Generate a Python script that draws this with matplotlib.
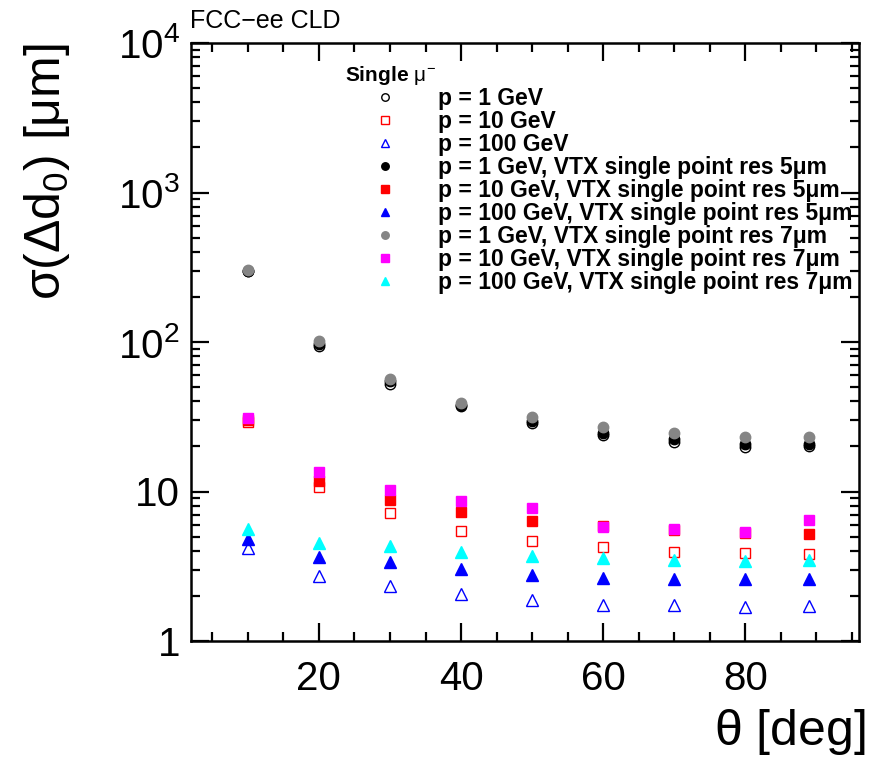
import matplotlib
matplotlib.use("Agg")
import matplotlib.pyplot as plt
from matplotlib.ticker import FixedLocator, FixedFormatter, MultipleLocator, LogLocator, NullFormatter

plt.rcParams['font.family'] = ['Liberation Sans', 'DejaVu Sans']
plt.rcParams['mathtext.fontset'] = 'custom'
plt.rcParams['mathtext.rm'] = 'Liberation Sans'
plt.rcParams['mathtext.it'] = 'Liberation Sans'
plt.rcParams['mathtext.bf'] = 'Liberation Sans:bold'

# polar angle [deg]
theta = [10, 20, 30, 40, 50, 60, 70, 80, 89]

# sigma(d0) [um], default detector
p1 = [297, 94, 52.4, 37.5, 28.7, 23.8, 21.5, 19.9, 20.0]
p10 = [29.2, 10.7, 7.15, 5.47, 4.69, 4.25, 3.96, 3.86, 3.82]
p100 = [4.17, 2.72, 2.34, 2.07, 1.87, 1.75, 1.73, 1.70, 1.71]

# VTX single point resolution 5 um
p1_5 = [300, 97, 54.5, 38.0, 29.5, 24.7, 22.4, 20.8, 20.8]
p10_5 = [30.0, 11.7, 8.77, 7.26, 6.38, 5.88, 5.5, 5.25, 5.22]
p100_5 = [4.81, 3.63, 3.38, 3.02, 2.75, 2.65, 2.59, 2.60, 2.61]

# VTX single point resolution 7 um
p1_7 = [302, 102, 56.6, 38.9, 31.4, 26.9, 24.7, 23.2, 23.2]
p10_7 = [31.0, 13.4, 10.2, 8.7, 7.76, 5.76, 5.58, 5.36, 6.42]
p100_7 = [5.64, 4.52, 4.32, 3.94, 3.70, 3.59, 3.47, 3.41, 3.47]

fig = plt.figure(figsize=(8.75, 7.57), dpi=100)
ax = fig.add_axes([191/875, 1 - 641/757, (859 - 191)/875, (641 - 43)/757])

ms = 7.5
ax.plot(theta, p1, 'o', mfc='none', mec='black', mew=1.0, ms=ms, label='p = 1 GeV')
ax.plot(theta, p10, 's', mfc='none', mec='red', mew=1.0, ms=ms, label='p = 10 GeV')
ax.plot(theta, p100, '^', mfc='none', mec='blue', mew=1.0, ms=ms + 0.5, label='p = 100 GeV')
ax.plot(theta, p1_5, 'o', color='black', ms=ms, label='p = 1 GeV, VTX single point res 5μm')
ax.plot(theta, p10_5, 's', color='red', ms=ms, label='p = 10 GeV, VTX single point res 5μm')
ax.plot(theta, p100_5, '^', color='blue', ms=ms + 0.5, label='p = 100 GeV, VTX single point res 5μm')
ax.plot(theta, p1_7, 'o', color='#858585', ms=ms, label='p = 1 GeV, VTX single point res 7μm')
ax.plot(theta, p10_7, 's', color='magenta', ms=ms, label='p = 10 GeV, VTX single point res 7μm')
ax.plot(theta, p100_7, '^', color='cyan', ms=ms + 0.5, label='p = 100 GeV, VTX single point res 7μm')

ax.set_yscale('log')
ax.set_xlim(2, 96)
ax.set_ylim(1, 1e4)

ax.xaxis.set_major_locator(MultipleLocator(20))
ax.xaxis.set_minor_locator(MultipleLocator(5))
ax.yaxis.set_major_locator(FixedLocator([1, 10, 100, 1000, 10000]))
ax.yaxis.set_major_formatter(FixedFormatter(['1', '10', r'$10^{2}$', r'$10^{3}$', r'$10^{4}$']))
ax.yaxis.set_minor_locator(LogLocator(base=10, subs=range(2, 10)))
ax.yaxis.set_minor_formatter(NullFormatter())

ax.tick_params(which='both', direction='in', top=True, right=True, width=1.6, labelsize=29)
ax.tick_params(which='major', length=12.7)
ax.tick_params(which='minor', length=6.3)
ax.tick_params(axis='y', pad=8)
ax.tick_params(axis='x', pad=14)
for s in ax.spines.values():
    s.set_linewidth(1.8)

ax.set_ylabel(r'$\sigma(\Delta d_{0})$ [$\mu$m]', fontsize=36, loc='top', labelpad=33)
ax.set_xlabel(r'$\theta$ [deg]', fontsize=36, loc='right', labelpad=6)
ax.xaxis.label.set_x(1.01)

fig.text(190/875, 1 - 21/757, 'FCC\u2212ee CLD', fontsize=18, va='center', ha='left')

leg = ax.legend(loc='upper left', bbox_to_anchor=(345/875, 1 - 64/757), bbox_transform=fig.transFigure,
                frameon=False, prop={'weight': 'bold', 'size': 16.5}, title=r'Single $\mu^{-}$',
                title_fontproperties={'weight': 'bold', 'size': 15}, alignment='left',
                handlelength=3.5, handletextpad=0.55, labelspacing=0.0, borderpad=0,
                borderaxespad=0, numpoints=1, markerscale=0.72)

fig.savefig('out.png', dpi=100)
